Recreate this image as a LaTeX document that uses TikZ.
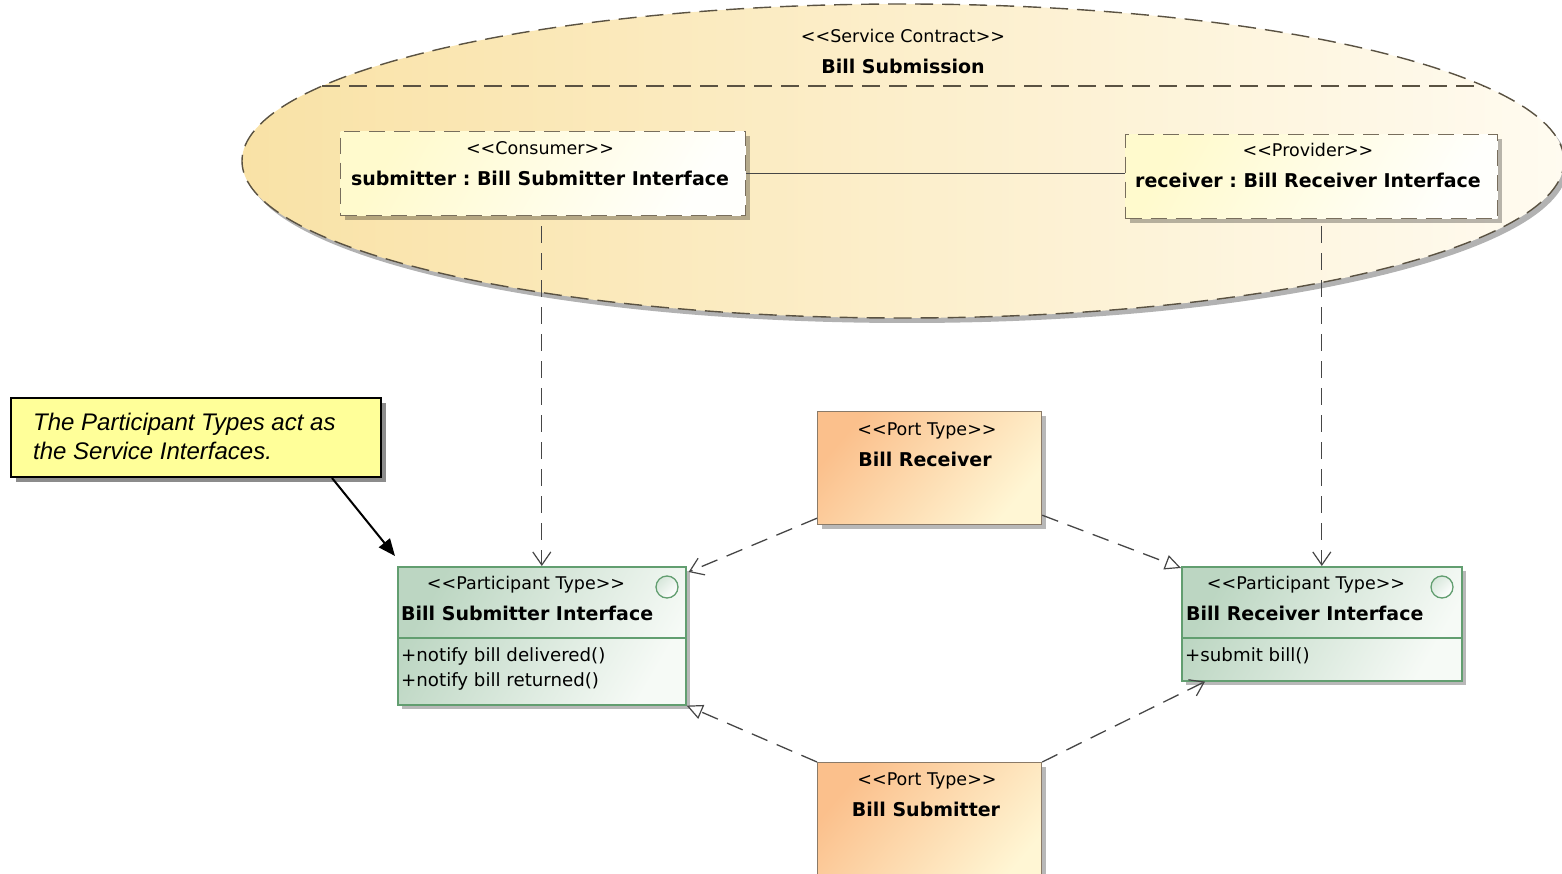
\documentclass[tikz,border=0pt]{standalone}
\usepackage{fontspec}
\newfontfamily\umlfont{DejaVu Sans}
\newfontfamily\notefont{Liberation Sans}
\usetikzlibrary{shapes.geometric,shadows,arrows.meta,calc}

\definecolor{ellL}{RGB}{249,226,166}
\definecolor{ellR}{RGB}{255,251,240}
\definecolor{ellLine}{RGB}{90,82,66}
\definecolor{roleL}{RGB}{255,250,205}
\definecolor{roleR}{RGB}{255,255,252}
\definecolor{roleLine}{RGB}{120,110,92}
\definecolor{partL}{RGB}{188,214,194}
\definecolor{partR}{RGB}{246,250,246}
\definecolor{partLine}{RGB}{98,158,112}
\definecolor{portL}{RGB}{251,192,140}
\definecolor{portR}{RGB}{255,246,212}
\definecolor{portLine}{RGB}{138,122,104}
\definecolor{noteFill}{RGB}{255,255,153}
\definecolor{conn}{RGB}{70,70,70}

\frenchspacing
\begin{document}
\begin{tikzpicture}[x=1pt,y=-1pt,
  shadowed/.style={drop shadow={shadow xshift=4pt,shadow yshift=-4pt,fill=black,opacity=0.28}},
  stereo/.style={font=\umlfont\fontsize{17.5}{20}\selectfont,inner sep=0pt,anchor=base},
  bname/.style={font=\umlfont\fontsize{19}{22}\selectfont\bfseries,inner sep=0pt,anchor=base},
  opline/.style={font=\umlfont\fontsize{18.2}{20}\selectfont,inner sep=0pt,anchor=base west},
  contract/.style={ellipse,inner sep=0pt,minimum width=1322pt,minimum height=314pt,
    draw=ellLine,line width=1.4pt,dash pattern=on 18pt off 9pt,
    left color=ellL,right color=ellR,
    drop shadow={shadow xshift=4pt,shadow yshift=-5pt,fill=black,opacity=0.3}},
  rolebox/.style={rectangle,inner sep=0pt,anchor=north west,draw=roleLine,line width=1.1pt,
    dash pattern=on 16pt off 9pt,top color=roleL,bottom color=roleR,shading angle=60,shadowed},
  partbox/.style={rectangle,inner sep=0pt,anchor=north west,draw=partLine,line width=1.6pt,
    top color=partL,bottom color=partR,shading angle=60,shadowed},
  portbox/.style={rectangle,inner sep=0pt,anchor=north west,draw=portLine,line width=1.2pt,
    top color=portL,bottom color=portR,shading angle=50,shadowed},
  notebox/.style={rectangle,inner sep=0pt,anchor=north west,draw=black,line width=2pt,
    fill=noteFill,drop shadow={shadow xshift=5pt,shadow yshift=-5pt,fill=black,opacity=0.45}},
  notetext/.style={font=\notefont\itshape\fontsize{24}{26}\selectfont,inner sep=0pt,anchor=base west},
  icon/.style={circle,inner sep=0pt,minimum size=22pt,draw=partLine,line width=1.3pt,
    top color=partL!60!white,bottom color=white,shading angle=45},
  dashedconn/.style={draw=conn,line width=1.3pt,dash pattern=on 17pt off 10pt},
  usage/.style={dashedconn,-{Straight Barb[length=13pt,width=18pt,line width=1.2pt]}},
  realize/.style={dashedconn,-{Triangle[open,length=16pt,width=15pt,line width=1.2pt,fill=white]}},
  assoc/.style={draw=conn,line width=1.2pt},
  notearrow/.style={draw=black,line width=2pt,-{Triangle[length=17pt,width=14pt]}}
]
\useasboundingbox (0,0) rectangle (1562,874);

% service contract
\node[contract] (sc) at (903,161) {};
\draw[draw=ellLine,line width=1.4pt,dash pattern=on 18pt off 9pt] (322,86) -- (1484,86);
\node[stereo] (scst) at (903,43) {<<Service Contract>>};
\node[bname] (scnm) at (903,74) {Bill Submission};

% roles inside the contract
\node[rolebox,minimum width=405pt,minimum height=84pt] (cons) at (340,131) {};
\node[stereo] (consst) at (540,155) {<<Consumer>>};
\node[bname] (consnm) at (540,186) {submitter : Bill Submitter Interface};

\node[rolebox,minimum width=372pt,minimum height=84pt] (prov) at (1125,134) {};
\node[stereo] (provst) at (1308,157) {<<Provider>>};
\node[bname] (provnm) at (1308,188) {receiver : Bill Receiver Interface};

\draw[assoc] (cons.east) -- (cons.east -| prov.west);

% participant types
\node[partbox,minimum width=288pt,minimum height=138pt] (bsi) at (397,566) {};
\draw[draw=partLine,line width=1.3pt] (397,638) -- (685,638);
\node[stereo] (bsist) at (526,589) {<<Participant Type>>};
\node[bname,anchor=base west] (bsinm) at (401,620) {Bill Submitter Interface};
\node[opline] (bsiop1) at (401,661) {+notify bill delivered()};
\node[opline] (bsiop2) at (401,686) {+notify bill returned()};
\node[icon] (bsiic) at (667,587) {};

\node[partbox,minimum width=280pt,minimum height=114pt] (bri) at (1181,566) {};
\draw[draw=partLine,line width=1.3pt] (1181,638) -- (1461,638);
\node[stereo] (brist) at (1306,589) {<<Participant Type>>};
\node[bname,anchor=base west] (brinm) at (1186,620) {Bill Receiver Interface};
\node[opline] (briop1) at (1185,661) {+submit bill()};
\node[icon] (briic) at (1442,587) {};

% port types
\node[portbox,minimum width=224pt,minimum height=113pt] (portRc) at (817,411) {};
\node[stereo] (portRst) at (927,435) {<<Port Type>>};
\node[bname] (portRnm) at (925,466) {Bill Receiver};

\node[portbox,minimum width=224pt,minimum height=130pt] (portSb) at (817,762) {};
\node[stereo] (portSst) at (927,785) {<<Port Type>>};
\node[bname] (portSnm) at (926,816) {Bill Submitter};

% note
\node[notebox,minimum width=370pt,minimum height=79pt] (note) at (10,397) {};
\node[notetext] (notel1) at (33,430) {The Participant Types act as};
\node[notetext] (notel2) at (33,459) {the Service Interfaces.};

% connectors
\draw[usage] ($(cons.south -| bsi.north)+(0,10)$) -- (bsi.north);
\draw[usage] ($(prov.south -| bri.north)+(0,7)$) -- (bri.north);
\draw[usage] ($(portRc.south west)+(0,-7)$) -- ($(bsi.north east)+(2,6)$);
\draw[realize] ($(portRc.south east)+(0,-10)$) -- ($(bri.north west)+(0,2)$);
\draw[realize] (portSb.north west) -- (bsi.south east);
\draw[usage] (portSb.north east) -- ($(bri.south west)+(24,0)$);
\draw[notearrow] ($(note.south east)+(-50,0)$) -- ($(bsi.north west)+(-2,-10)$);
\end{tikzpicture}
\end{document}
